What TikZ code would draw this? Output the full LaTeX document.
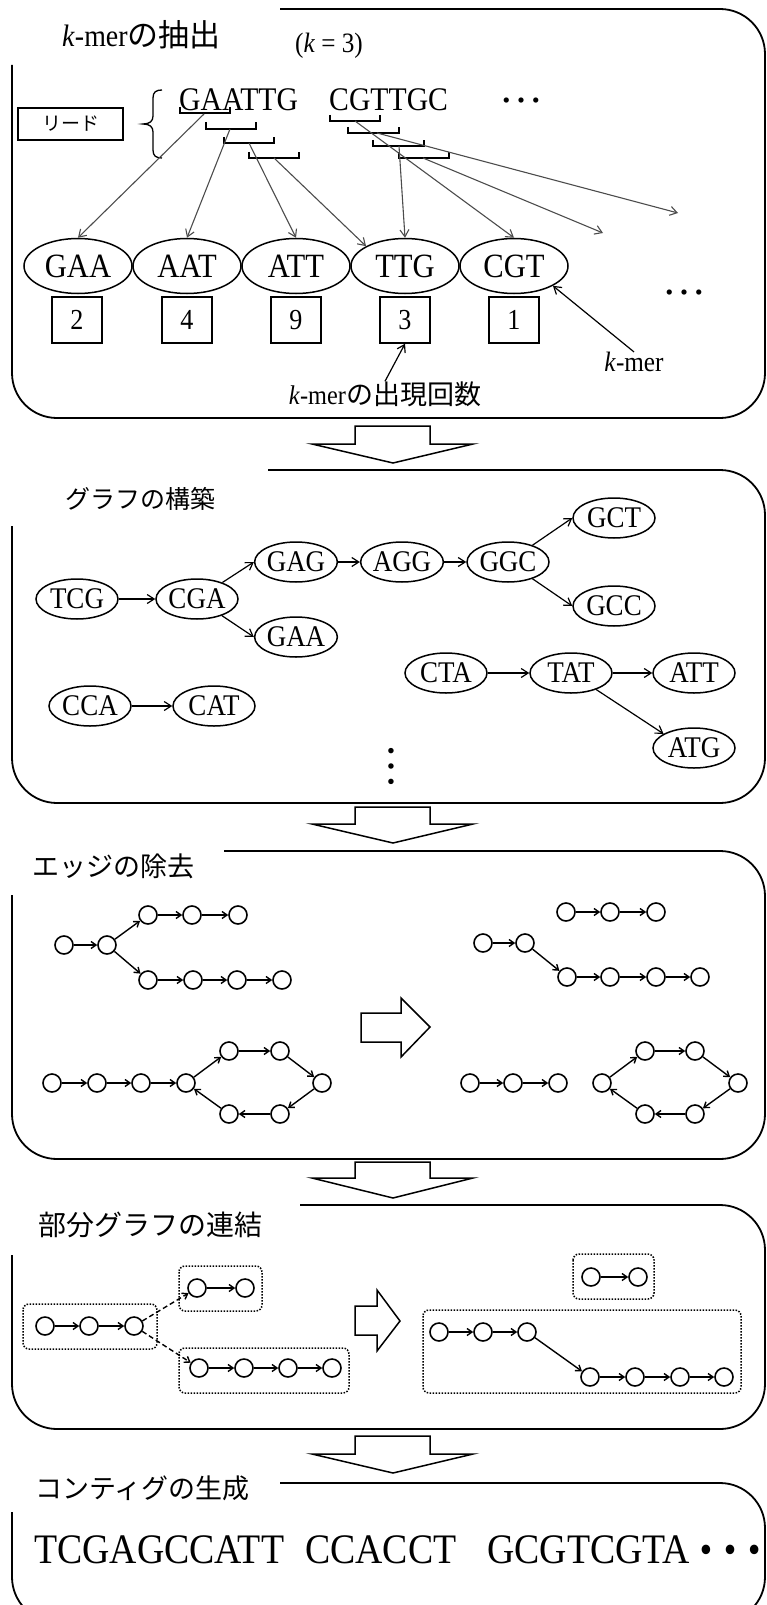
\documentclass[tikz,border=0pt]{standalone}
\usepackage{fontspec}
\setmainfont{Liberation Serif}[FakeStretch=0.9]
\newfontfamily\jp{Noto Sans CJK JP}
\newfontfamily\plainserif{Liberation Serif}
\usetikzlibrary{arrows.meta,shapes.geometric}
\begin{document}
\begin{tikzpicture}[x=1pt,y=-1pt,
  frame/.style={line width=1.8pt, rounded corners=45pt},
  ttl/.style={anchor=west, inner sep=0pt},
  kell/.style={ellipse, draw, line width=1.5pt, minimum width=108pt, minimum height=55pt, inner sep=0pt, font=\fontsize{34}{36}\selectfont},
  cnt/.style={draw, line width=1.5pt, minimum width=50pt, minimum height=46pt, inner sep=0pt, font=\fontsize{29}{30}\selectfont},
  gell/.style={ellipse, draw, line width=1.5pt, minimum width=82pt, minimum height=40pt, inner sep=0pt, font=\fontsize{30}{32}\selectfont},
  vx/.style={circle, draw, line width=1.6pt, minimum size=18pt, inner sep=0pt},
  seq/.style={anchor=base west, inner sep=0pt, font=\fontsize{33}{35}\selectfont},
  brk/.style={line width=1.3pt},
  garr/.style={draw=black!70, line width=1.1pt, -{Straight Barb[length=7pt,width=9pt]}},
  arr/.style={line width=1.2pt, -{Straight Barb[length=7pt,width=9pt]}},
  sarr/.style={line width=1.4pt, -{Straight Barb[length=5pt,width=7pt]}},
  darr/.style={sarr, dash pattern=on 5pt off 3pt},
  dbox/.style={draw, line width=1.5pt, dash pattern=on 1.5pt off 1.5pt, rounded corners=6pt},
  block/.style={draw, line width=1.5pt, fill=white},
  dotsn/.style={inner sep=0pt, font=\plainserif\fontsize{44}{44}\selectfont},
]
\useasboundingbox (0,0) rectangle (767,1605);

% ================= Panel 1 =================
\draw[frame] (12,65) -- (12,418) -- (765,418) -- (765,9) -- (280,9);
\node[ttl, font=\fontsize{31}{34}\selectfont] (t1) at (62,35) {\textit{k}-mer{\jp の抽出}};
\node[inner sep=0pt, font=\fontsize{28}{30}\selectfont] (kval) at (329,46) {(\textit{k} = 3)};
\node[draw, line width=1.5pt, minimum width=105pt, minimum height=32pt, inner sep=0pt, font=\jp\fontsize{19}{21}\selectfont] (read) at (70.5,124) {リード};
\draw[line width=1.3pt] (162,90) .. controls (156,90) and (153,92) .. (153,98) -- (153,116) .. controls (153,121) and (150,124) .. (143,124) .. controls (150,124) and (153,127) .. (153,132) -- (153,150) .. controls (153,156) and (156,158) .. (162,158);

\node[seq] (s1) at (179,111) {GAATTG};
\node[seq] (s2) at (329,111) {CGTTGC};
\node[dotsn] (dots1) at (521,101) {…};

% brackets
\draw[brk] (180,107) -- (180,113) -- (230,113) -- (230,107);
\draw[brk] (206,122) -- (206,129) -- (256,129) -- (256,122);
\draw[brk] (224,137) -- (224,143) -- (274,143) -- (274,137);
\draw[brk] (249,152) -- (249,158) -- (299,158) -- (299,152);
\draw[brk] (330,115) -- (330,121) -- (380,121) -- (380,115);
\draw[brk] (348,127) -- (348,133) -- (399,133) -- (399,127);
\draw[brk] (373,140) -- (373,146) -- (424,146) -- (424,140);
\draw[brk] (399,152) -- (399,158) -- (449,158) -- (449,152);
\coordinate (b1) at (204,114);
\coordinate (b2) at (230,129);
\coordinate (b3) at (249,143);
\coordinate (b4) at (274,158);
\coordinate (c1) at (355,121);
\coordinate (c2) at (377,133);
\coordinate (c3) at (399,146);
\coordinate (c4) at (423,158);
\coordinate (free1) at (678,213);
\coordinate (free2) at (603,233);

% k-mer ellipses
\node[kell] (gaa) at (78,266) {GAA};
\node[kell] (aat) at (187,266) {AAT};
\node[kell] (att) at (296,266) {ATT};
\node[kell] (ttg) at (405,266) {TTG};
\node[kell] (cgt) at (514,266) {CGT};
\node[dotsn] (dots2) at (684,293) {…};

\node[cnt] (n2) at (77,320) {2};
\node[cnt] (n4) at (187,320) {4};
\node[cnt] (n9) at (296,320) {9};
\node[cnt] (n3) at (405,320) {3};
\node[cnt] (n1) at (514,320) {1};

\draw[garr] (b1) -- (gaa.north);
\draw[garr] (b2) -- (aat.north);
\draw[garr] (b3) -- (att.north);
\draw[garr] (b4) -- (ttg.153);
\draw[garr] (c1) -- (cgt.north);
\draw[garr] (c2) -- (free1);
\draw[garr] (c3) -- (ttg.north);
\draw[garr] (c4) -- (free2);

\node[inner sep=0pt, font=\fontsize{28}{30}\selectfont] (kmer) at (634,362) {\textit{k}-mer};
\draw[arr] (kmer.north) -- (cgt.-27);
\node[inner sep=0pt, font=\fontsize{27}{30}\selectfont] (occ) at (385,394) {\textit{k}-mer{\jp の出現回数}};
\draw[arr] (occ.north) -- (n3.south);

% arrow 1
\draw[block] (355,426) -- (430,426) -- (430,444) -- (473,444) -- (393,463) -- (312,444) -- (355,444) -- cycle;

% ================= Panel 2 =================
\draw[frame] (12,526) -- (12,803) -- (765,803) -- (765,470) -- (268,470);
\node[ttl, font=\jp\fontsize{25}{28}\selectfont] (t2) at (65,499) {グラフの構築};

\node[gell] (tcg) at (77,599) {TCG};
\node[gell] (cga) at (197,599) {CGA};
\node[gell] (gag) at (296,562) {GAG};
\node[gell] (gaa2) at (296,637) {GAA};
\node[gell] (agg) at (402,562) {AGG};
\node[gell] (ggc) at (508,562) {GGC};
\node[gell] (gct) at (614,518) {GCT};
\node[gell] (gcc) at (614,606) {GCC};
\node[gell] (cta) at (446,673) {CTA};
\node[gell] (tat) at (571,673) {TAT};
\node[gell] (att2) at (694,673) {ATT};
\node[gell] (atg) at (694,748) {ATG};
\node[gell] (cca) at (90,706) {CCA};
\node[gell] (cat) at (214,706) {CAT};

\draw[arr] (tcg) -- (cga);
\draw[arr] (cga) -- (gag.west);
\draw[arr] (cga) -- (gaa2.west);
\draw[arr] (gag) -- (agg);
\draw[arr] (agg) -- (ggc);
\draw[arr] (ggc) -- (gct.west);
\draw[arr] (ggc) -- (gcc.west);
\draw[arr] (cta) -- (tat);
\draw[arr] (tat) -- (att2);
\draw[arr] (tat) -- (atg.155);
\draw[arr] (cca) -- (cat);
\node[dotsn, rotate=90, font=\plainserif\fontsize{46}{46}\selectfont] (vdots) at (391,766) {…};

% arrow 2
\draw[block] (355,807) -- (430,807) -- (430,824) -- (473,824) -- (393,843) -- (312,824) -- (355,824) -- cycle;

% ================= Panel 3 =================
\draw[frame] (12,895) -- (12,1159) -- (765,1159) -- (765,851) -- (224,851);
\node[ttl, font=\jp\fontsize{27}{30}\selectfont] (t3) at (32,866) {エッジの除去};

\node[vx] (a0) at (64,945) {};
\node[vx] (a1) at (107,945) {};
\node[vx] (b1n) at (148,915) {};
\node[vx] (b2n) at (192,915) {};
\node[vx] (b3n) at (238,915) {};
\node[vx] (c1n) at (148,980) {};
\node[vx] (c2n) at (193,980) {};
\node[vx] (c3n) at (237,980) {};
\node[vx] (c4n) at (282,980) {};
\draw[sarr] (a0) -- (a1);
\draw[sarr] (a1) -- (b1n);
\draw[sarr] (b1n) -- (b2n);
\draw[sarr] (b2n) -- (b3n);
\draw[sarr] (a1) -- (c1n);
\draw[sarr] (c1n) -- (c2n);
\draw[sarr] (c2n) -- (c3n);
\draw[sarr] (c3n) -- (c4n);

\node[vx] (d1) at (566,912) {};
\node[vx] (d2) at (610,912) {};
\node[vx] (d3) at (656,912) {};
\node[vx] (e0) at (483,943) {};
\node[vx] (e1) at (525,943) {};
\node[vx] (f1) at (567,977) {};
\node[vx] (f2) at (610,977) {};
\node[vx] (f3) at (656,977) {};
\node[vx] (f4) at (700,977) {};
\draw[sarr] (d1) -- (d2);
\draw[sarr] (d2) -- (d3);
\draw[sarr] (e0) -- (e1);
\draw[sarr] (e1) -- (f1);
\draw[sarr] (f1) -- (f2);
\draw[sarr] (f2) -- (f3);
\draw[sarr] (f3) -- (f4);

\draw[block] (361,1013) -- (401,1013) -- (401,998) -- (430,1027) -- (401,1057) -- (401,1042) -- (361,1042) -- cycle;

\node[vx] (g0) at (52,1083) {};
\node[vx] (g1) at (97,1083) {};
\node[vx] (g2) at (141,1083) {};
\node[vx] (g3) at (186,1083) {};
\node[vx] (h1) at (229,1051) {};
\node[vx] (h2) at (280,1051) {};
\node[vx] (h3) at (322,1083) {};
\node[vx] (h4) at (280,1114) {};
\node[vx] (h5) at (229,1114) {};
\draw[sarr] (g0) -- (g1);
\draw[sarr] (g1) -- (g2);
\draw[sarr] (g2) -- (g3);
\draw[sarr] (g3) -- (h1);
\draw[sarr] (h1) -- (h2);
\draw[sarr] (h2) -- (h3);
\draw[sarr] (h3) -- (h4);
\draw[sarr] (h4) -- (h5);
\draw[sarr] (h5) -- (g3);

\node[vx] (i0) at (470,1083) {};
\node[vx] (i1) at (513,1083) {};
\node[vx] (i2) at (558,1083) {};
\node[vx] (j0) at (602,1083) {};
\node[vx] (j1) at (645,1051) {};
\node[vx] (j2) at (695,1051) {};
\node[vx] (j3) at (738,1083) {};
\node[vx] (j4) at (695,1114) {};
\node[vx] (j5) at (645,1114) {};
\draw[sarr] (i0) -- (i1);
\draw[sarr] (i1) -- (i2);
\draw[sarr] (j0) -- (j1);
\draw[sarr] (j1) -- (j2);
\draw[sarr] (j2) -- (j3);
\draw[sarr] (j3) -- (j4);
\draw[sarr] (j4) -- (j5);
\draw[sarr] (j5) -- (j0);

% arrow 3
\draw[block] (355,1162) -- (430,1162) -- (430,1178) -- (473,1178) -- (393,1198) -- (312,1178) -- (355,1178) -- cycle;

% ================= Panel 4 =================
\draw[frame] (12,1255) -- (12,1429) -- (765,1429) -- (765,1205) -- (300,1205);
\node[ttl, font=\jp\fontsize{28}{31}\selectfont] (t4) at (38,1225) {部分グラフの連結};

\draw[dbox] (23,1304) rectangle (157,1349);
\draw[dbox] (179,1266) rectangle (262,1311);
\draw[dbox] (179,1348) rectangle (349,1393);
\node[vx] (k0) at (45,1326) {};
\node[vx] (k1) at (89,1326) {};
\node[vx] (k2) at (134,1326) {};
\node[vx] (m0) at (197,1288) {};
\node[vx] (m1) at (245,1288) {};
\node[vx] (o0) at (199,1368) {};
\node[vx] (o1) at (244,1368) {};
\node[vx] (o2) at (288,1368) {};
\node[vx] (o3) at (332,1368) {};
\draw[sarr] (k0) -- (k1);
\draw[sarr] (k1) -- (k2);
\draw[sarr] (m0) -- (m1);
\draw[sarr] (o0) -- (o1);
\draw[sarr] (o1) -- (o2);
\draw[sarr] (o2) -- (o3);
\draw[darr] (k2) -- (m0);
\draw[darr] (k2) -- (o0);

\draw[block] (355,1306) -- (377,1306) -- (377,1290) -- (400,1321) -- (377,1351) -- (377,1335) -- (355,1335) -- cycle;

\draw[dbox] (573,1254) rectangle (654,1299);
\draw[dbox] (423,1310) rectangle (741,1393);
\node[vx] (p0) at (591,1277) {};
\node[vx] (p1) at (638,1277) {};
\node[vx] (q0) at (439,1332) {};
\node[vx] (q1) at (483,1332) {};
\node[vx] (q2) at (527,1332) {};
\node[vx] (r0) at (590,1377) {};
\node[vx] (r1) at (635,1377) {};
\node[vx] (r2) at (680,1377) {};
\node[vx] (r3) at (724,1377) {};
\draw[sarr] (p0) -- (p1);
\draw[sarr] (q0) -- (q1);
\draw[sarr] (q1) -- (q2);
\draw[sarr] (q2) -- (r0);
\draw[sarr] (r0) -- (r1);
\draw[sarr] (r1) -- (r2);
\draw[sarr] (r2) -- (r3);

% arrow 4
\draw[block] (355,1436) -- (430,1436) -- (430,1454) -- (473,1454) -- (393,1473) -- (312,1454) -- (355,1454) -- cycle;

% ================= Panel 5 =================
\draw[frame] (12,1512) -- (12,1622) -- (765,1622) -- (765,1483) -- (280,1483);
\node[ttl, font=\jp\fontsize{27}{30}\selectfont] (t5) at (35,1488) {コンティグの生成};
\node[anchor=base west, inner sep=0pt, font=\fontsize{42}{46}\selectfont] (ct1) at (34,1563) {TCGAGCCATT};
\node[anchor=base west, inner sep=0pt, font=\fontsize{42}{46}\selectfont] (ct2) at (305,1563) {CCACCT};
\node[anchor=base west, inner sep=0pt, font=\fontsize{42}{46}\selectfont] (ct3) at (487,1563) {GCGTCGTA};
\node[inner sep=0pt, font=\fontsize{80}{80}\selectfont] (dots3) at (730,1550) {…};
\end{tikzpicture}
\end{document}
